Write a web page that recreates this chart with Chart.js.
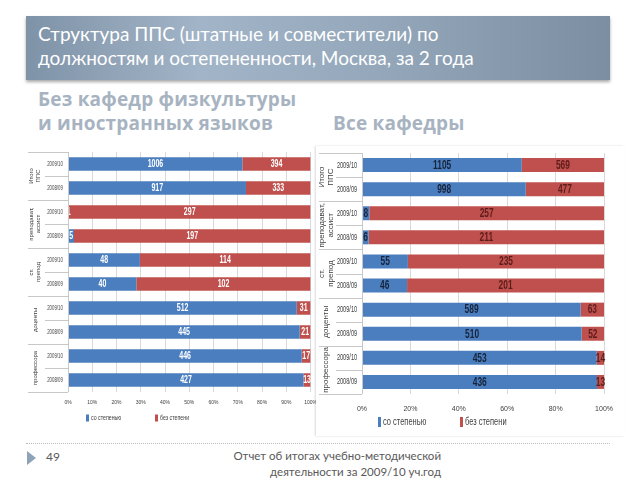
<!DOCTYPE html>
<html>
<head>
<meta charset="utf-8">
<script src="https://cdn.jsdelivr.net/npm/chart.js@4"></script>
<style>
  body { margin: 0; width: 640px; height: 480px; background: #fff; position: relative; overflow: hidden; font-family: Lato, "Open Sans", sans-serif; }
  .banner { position: absolute; left: 26px; top: 16px; width: 584px; height: 64px;
    background: linear-gradient(90deg, #7f93a8 0%, #a2b4c7 30%, #95a8bb 60%, #7c8ea2 100%);
    box-shadow: 0 2px 3px rgba(0,0,0,0.35); }
  .title { position: absolute; left: 38px; top: 22px; color: #fff; font-size: 19px; line-height: 24px; }
  .sub { position: absolute; color: #a7b3c1; font-weight: bold; font-size: 19px; line-height: 24px; font-family: "Open Sans", sans-serif; letter-spacing: 0.2px; }
  .box { position: absolute; top: 146px; height: 290px; }
  #leftBox { left: 25px; width: 300px; }
  #rightBox { left: 316px; width: 308px; background: #fff; box-shadow: -1px 0 2px rgba(0,0,0,0.15); }
  .dots { position: absolute; left: 26px; top: 443px; width: 584px; border-top: 1px dotted #b9b9b9; }
  .tri { position: absolute; left: 27px; top: 451px; width: 0; height: 0; border-top: 7px solid transparent; border-bottom: 7px solid transparent; border-left: 9px solid #8fa3b8; }
  .num { position: absolute; left: 46px; top: 449px; font-size: 12px; color: #595959; }
  .foot { position: absolute; right: 199px; top: 448px; font-size: 11.5px; line-height: 16px; color: #595959; text-align: right; }
</style>
</head>
<body>
<div class="banner"></div>
<div class="title">Структура ППС (штатные и совместители) по<br>должностям и остепененности, Москва, за 2 года</div>
<div class="sub" style="left:38px; top:87px;">Без кафедр физкультуры<br>и иностранных языков</div>
<div class="sub" style="left:333px; top:111px;">Все кафедры</div>
<div class="box" id="leftBox"><canvas id="leftChart" width="300" height="290"></canvas></div>
<div class="box" id="rightBox"><canvas id="rightChart" width="308" height="290"></canvas></div>
<div class="dots"></div>
<div class="tri"></div>
<div class="num">49</div>
<div class="foot">Отчет об итогах учебно-методической<br>деятельности за 2009/10 уч.год</div>

<script>
// categories
const years = ["2009/10", "2008/09"];
const groupNames = [["Итого", "ППС"], ["преподават,", "ассист"], ["ст.", "препод"], ["доценты"], ["профессора"]];
const seriesNames = ["со степенью", "без степени"];

// left chart: without PE and foreign language departments
const leftWith = [1006, 917, 1, 5, 48, 40, 512, 445, 446, 427];
const leftWithout = [394, 333, 297, 197, 114, 102, 31, 21, 17, 13];

// right chart: all departments
const rightWith = [1105, 998, 8, 6, 55, 46, 589, 510, 453, 436];
const rightWithout = [569, 477, 257, 211, 235, 201, 63, 52, 14, 13];

const leftTicks = [0, 10, 20, 30, 40, 50, 60, 70, 80, 90, 100];
const rightTicks = [0, 20, 40, 60, 80, 100];

const BLUE = "#4a7ebf";
const RED = "#c0504d";
const FONT = '"Liberation Sans", Arial, sans-serif';

const labels = groupNames.flatMap(() => years);

//Share of each series in a row, in percent
function share(a, b) {
  return a.map((v, i) => (v / (v + b[i])) * 100);
}

//Squeezed text, looks like a narrow font
function narrowText(ctx, text, x, y, sx) {
  ctx.save();
  ctx.translate(x, y);
  ctx.scale(sx, 1);
  ctx.fillText(text, 0, 0);
  ctx.restore();
}

//Draws counts inside bars, year and group labels, separators and legend
function decorPlugin(cfg) {
  return {
    id: "decor",
    afterDatasetsDraw(chart) {
      const ctx = chart.ctx;
      const area = chart.chartArea;
      const y = chart.scales.y;
      const raws = [cfg.withVals, cfg.withoutVals];

      // counts on bars
      ctx.save();
      ctx.textAlign = "center";
      ctx.textBaseline = "middle";
      ctx.font = `bold ${cfg.valueSize}px ${FONT}`;
      chart.data.datasets.forEach((ds, di) => {
        chart.getDatasetMeta(di).data.forEach((el, i) => {
          ctx.fillStyle = cfg.valueColors[di];
          narrowText(ctx, String(raws[di][i]), (el.x + el.base) / 2, el.y + 0.5, 0.7);
        });
      });
      ctx.restore();

      // separators in label area
      const rowH = (y.getPixelForValue(1) - y.getPixelForValue(0));
      ctx.save();
      ctx.strokeStyle = "#c8c8c8";
      ctx.lineWidth = 1;
      ctx.beginPath();
      ctx.moveTo(area.left + 0.5, area.top);
      ctx.lineTo(area.left + 0.5, area.bottom);
      for (let i = 0; i <= labels.length; i++) {
        const py = Math.round(y.getPixelForValue(i) - rowH / 2) + 0.5;
        const x0 = i % 2 === 0 ? 3 : cfg.yearLeft;
        ctx.moveTo(x0, py);
        ctx.lineTo(area.left, py);
      }
      ctx.stroke();

      // year labels
      ctx.fillStyle = "#404040";
      ctx.textAlign = "center";
      ctx.textBaseline = "middle";
      ctx.font = `${cfg.yearSize}px ${FONT}`;
      labels.forEach((t, i) => {
        narrowText(ctx, t, cfg.yearX, y.getPixelForValue(i), 0.62);
      });

      // group labels, rotated
      ctx.font = `${cfg.groupSize}px ${FONT}`;
      groupNames.forEach((lines, g) => {
        const cy = (y.getPixelForValue(g * 2) + y.getPixelForValue(g * 2 + 1)) / 2;
        ctx.save();
        ctx.translate(cfg.groupX, cy);
        ctx.rotate(-Math.PI / 2);
        const lh = cfg.groupSize + 1;
        lines.forEach((t, k) => {
          ctx.fillText(t, 0, (k - (lines.length - 1) / 2) * lh);
        });
        ctx.restore();
      });

      // legend
      ctx.font = `${cfg.legendSize}px ${FONT}`;
      ctx.textAlign = "left";
      const ly = area.bottom + cfg.legendDy;
      seriesNames.forEach((name, k) => {
        const lx = cfg.legendX[k];
        ctx.fillStyle = k === 0 ? BLUE : RED;
        ctx.fillRect(lx, ly - cfg.legendSize / 2, 3, cfg.legendSize);
        ctx.fillStyle = "#404040";
        narrowText(ctx, name, lx + 5, ly, 0.75);
      });
      ctx.restore();
    },
  };
}

function makeChart(canvas, cfg) {
  return new Chart(canvas, {
    type: "bar",
    data: {
      labels: labels,
      datasets: [
        { label: seriesNames[0], data: share(cfg.withVals, cfg.withoutVals), backgroundColor: BLUE },
        { label: seriesNames[1], data: share(cfg.withoutVals, cfg.withVals), backgroundColor: RED },
      ],
    },
    options: {
      indexAxis: "y",
      responsive: false,
      animation: false,
      events: [],
      layout: { padding: cfg.padding },
      plugins: { legend: { display: false }, tooltip: { enabled: false } },
      datasets: { bar: { categoryPercentage: 1, barPercentage: cfg.barPct } },
      scales: {
        x: {
          stacked: true,
          min: 0,
          max: 100,
          afterBuildTicks: (axis) => { axis.ticks = cfg.ticks.map((v) => ({ value: v })); },
          afterFit: (axis) => { axis.height = cfg.xHeight; },
          border: { display: false },
          grid: { color: "#d9d9d9", drawTicks: false },
          ticks: {
            padding: cfg.tickPad,
            color: "#404040",
            font: { size: cfg.tickSize, family: FONT },
            callback: (v) => v + "%",
          },
        },
        y: {
          stacked: true,
          afterFit: (axis) => { axis.width = cfg.yWidth; },
          border: { display: false },
          grid: { display: false },
          ticks: { display: false },
        },
      },
    },
    plugins: [decorPlugin(cfg)],
  });
}

makeChart(document.getElementById("leftChart"), {
  withVals: leftWith,
  withoutVals: leftWithout,
  ticks: leftTicks,
  padding: { left: 0, right: 12, top: 6, bottom: 24 },
  yWidth: 43,
  xHeight: 20,
  tickPad: 8,
  tickSize: 5,
  yearSize: 7,
  yearX: 30,
  valueSize: 10,
  valueColors: ["#ffffff", "#ffffff"],
  groupSize: 6,
  groupX: 10,
  yearLeft: 20,
  barPct: 0.56,
  legendX: [61, 130],
  legendDy: 26,
  legendSize: 7,
});

makeChart(document.getElementById("rightChart"), {
  withVals: rightWith,
  withoutVals: rightWithout,
  ticks: rightTicks,
  padding: { left: 0, right: 14, top: 7, bottom: 20 },
  yWidth: 46,
  xHeight: 22,
  tickPad: 11,
  tickSize: 7,
  yearSize: 9,
  yearX: 31,
  valueSize: 12,
  valueColors: ["#17233a", "#5c1d1b"],
  groupSize: 8,
  groupX: 10,
  yearLeft: 20,
  barPct: 0.58,
  legendX: [62, 144],
  legendDy: 28,
  legendSize: 10,
});
</script>
</body>
</html>
